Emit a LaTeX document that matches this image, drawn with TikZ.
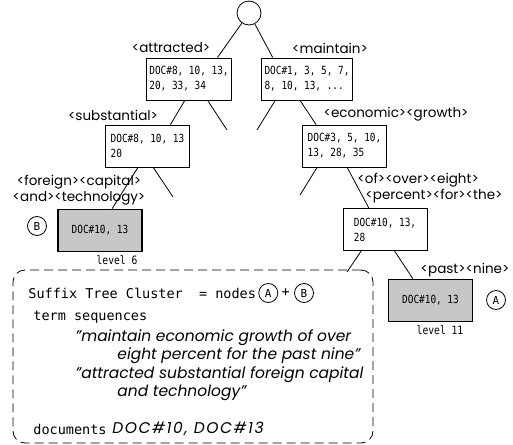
\documentclass[tikz,border=0pt]{standalone}
\usepackage{fontspec}
\setsansfont{Poppins}
\newfontfamily\docfont[FakeStretch=0.84]{DejaVu Sans Mono}
\newfontfamily\monofont{DejaVu Sans Mono}
\usetikzlibrary{positioning}
\tikzset{
  docbox/.style={draw, line width=0.8pt, minimum width=84pt, minimum height=42pt, inner xsep=3pt, inner ysep=3.5pt, align=left, font=\docfont\fontsize{11.2}{15}\selectfont},
  leafbox/.style={draw, line width=1.8pt, fill=black!22, minimum width=84pt, minimum height=42pt, font=\docfont\fontsize{11.2}{15}\selectfont},
  termlabel/.style={font=\sffamily\fontsize{13.5}{15.5}\selectfont, inner sep=0pt},
  tag/.style={draw, circle, line width=0.8pt, inner sep=0pt, minimum size=19pt, font=\monofont\fontsize{11}{11}\selectfont},
  levellabel/.style={font=\docfont\fontsize{11.5}{11.5}\selectfont, inner sep=0pt},
  cluster/.style={draw, line width=0.8pt, dash pattern=on 9pt off 5pt, rounded corners=12pt, minimum width=360pt, minimum height=173pt},
  clustertext/.style={font=\monofont\fontsize{13.5}{16}\selectfont, anchor=west, inner sep=0pt},
  phrase/.style={font=\sffamily\itshape\fontsize{15.5}{18}\selectfont, anchor=west, inner sep=0pt},
}
\begin{document}
\begin{tikzpicture}[x=1pt, y=-1pt, line width=0.8pt]
\useasboundingbox (0,0) rectangle (513,444);
\node[draw, circle, minimum size=24pt, inner sep=0pt] (root) at (249,13) {};
\node[docbox] (att) at (189,79) {DOC\#8, 10, 13,\\20, 33, 34};
\node[docbox] (main) at (307,79) {DOC\#1, 3, 5, 7,\\8, 10, 13, ...};
\node[docbox] (sub) at (147.5,146) {DOC\#8, 10, 13\\20};
\node[docbox] (econ) at (344.5,146) {DOC\#3, 5, 10,\\13, 28, 35};
\node[docbox] (n28) at (385,229.5) {DOC\#10, 13,\\28};
\node[leafbox] (leafB) at (100,230.5) {DOC\#10, 13};
\node[leafbox] (leafA) at (430.5,300.5) {DOC\#10, 13};
\node[tag] (tagB) at (37,226) {B};
\node[tag] (tagA) at (496,300) {A};
\node[levellabel] (lvB) at (117,260) {level 6};
\node[levellabel] (lvA) at (440,330) {level 11};

\node[termlabel] (latt) at (171,48) {<attracted>};
\node[termlabel] (lmain) at (330,48) {<maintain>};
\node[termlabel] (lsub) at (113,115) {<substantial>};
\node[termlabel] (lecon) at (396,114) {<economic><growth>};
\node[termlabel, align=center] (lfor) at (79,190) {<foreign><capital>\\<and><technology>};
\node[termlabel, align=left, anchor=west] (lof) at (357,188) {<of><over><eight>\\\hspace*{8pt}<percent><for><the>};
\node[termlabel] (lpast) at (465,270) {<past><nine>};

\coordinate (d1) at (227,130);
\coordinate (d2) at (257,130);
\coordinate (d3) at (173,197);
\coordinate (d4) at (300,195);
\coordinate (d5) at (347,272);
\draw (root) -- (att.37);
\draw (root) -- (main.148);
\draw (att.-101) -- (sub.43);
\draw (att.-49) -- (d1);
\draw (main.-146) -- (d2);
\draw (main.-108) -- (econ.143);
\draw (sub.-114) -- (leafB.61);
\draw (sub.-75) -- (d3);
\draw (econ.-142) -- (d4);
\draw (econ.-83) -- (n28.127);
\draw (n28.-138) -- (d5);
\draw (n28.-66) -- (leafA.129);

\node[cluster] (clu) at (193,356.5) {};
\node[clustertext] (cname) at (28,293) {Suffix Tree Cluster\ \ = nodes};
\node[tag, right=2pt of cname] (cA) {A};
\node[clustertext, right=3pt of cA] (plus) {+};
\node[tag, right=4pt of plus] (cB) {B};
\node[clustertext] (tseq) at (33,317) {term sequences};
\node[phrase] (q1) at (75,338) {"maintain economic growth of over};
\node[phrase] (q2) at (117,356) {eight percent for the past nine"};
\node[phrase] (q3) at (75,375) {"attracted substantial foreign capital};
\node[phrase] (q4) at (117,393) {and technology"};
\node[clustertext] (docs) at (33,429) {documents};
\node[phrase, font=\sffamily\itshape\fontsize{15.5}{18}\selectfont\addfontfeature{LetterSpace=10}] (docids) at (112,429) {DOC\#10, DOC\#13};
\end{tikzpicture}
\end{document}
